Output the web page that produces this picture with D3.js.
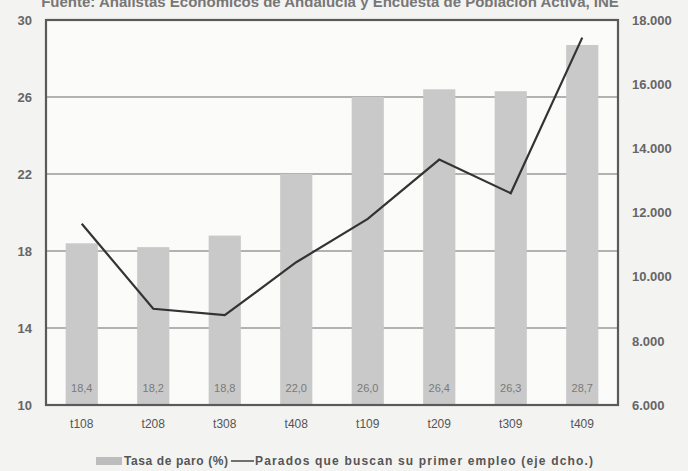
<!DOCTYPE html>
<html>
<head>
<meta charset="utf-8">
<script src="https://cdn.jsdelivr.net/npm/d3@7"></script>
<style>
  body { margin: 0; background: #f3f3f1; }
  svg { display: block; font-family: "Liberation Sans", Arial, sans-serif; }
</style>
</head>
<body>
<svg id="chart" width="688" height="471"></svg>
<script>
const quarters = ["t108", "t208", "t308", "t408", "t109", "t209", "t309", "t409"];
const tasaParo = [18.4, 18.2, 18.8, 22.0, 26.0, 26.4, 26.3, 28.7];
const primerEmpleo = [11650, 9000, 8800, 10450, 11800, 13650, 12600, 17450];
const leftTicks = [10, 14, 18, 22, 26, 30];
const rightTicks = [6000, 8000, 10000, 12000, 14000, 16000, 18000];

const svg = d3.select("#chart");
const margin = {left: 46, right: 70, top: 20, bottom: 66};
const width = 688 - margin.left - margin.right;
const height = 471 - margin.top - margin.bottom;
const ink = "#5a5a5a";

// source line, cut off at the top of the scan
svg.append("text")
  .attr("x", 330).attr("y", 7)
  .attr("text-anchor", "middle")
  .style("font-size", "15px").style("font-weight", "bold")
  .attr("fill", "#777")
  .text("Fuente: Analistas Económicos de Andalucía y Encuesta de Población Activa, INE");

const g = svg.append("g").attr("transform", `translate(${margin.left},${margin.top})`);

const x = d3.scaleBand().domain(quarters).range([0, width]).paddingInner(0.55).paddingOuter(0.275);
const y = d3.scaleLinear().domain([10, 30]).range([height, 0]);
const y2 = d3.scaleLinear().domain([6000, 18000]).range([height, 0]);

g.append("rect").attr("width", width).attr("height", height).attr("fill", "#fbfbfa");

// gridlines
g.append("g")
  .selectAll("line")
  .data(leftTicks.slice(1, -1))
  .enter().append("line")
  .attr("x1", 0).attr("x2", width)
  .attr("y1", d => y(d)).attr("y2", d => y(d))
  .attr("stroke", "#9a9a9a").attr("stroke-width", 1.3);

// bars
g.append("g")
  .selectAll("rect")
  .data(tasaParo)
  .enter().append("rect")
  .attr("x", (d, i) => x(quarters[i]))
  .attr("y", d => y(d))
  .attr("width", x.bandwidth())
  .attr("height", d => height - y(d))
  .attr("fill", "#c9c9c9");

g.append("g")
  .selectAll("text")
  .data(tasaParo)
  .enter().append("text")
  .attr("x", (d, i) => x(quarters[i]) + x.bandwidth() / 2)
  .attr("y", height - 13)
  .attr("text-anchor", "middle")
  .style("font-size", "11px")
  .attr("fill", "#7a7a7a")
  .text(d => d3.format(".1f")(d).replace(".", ","));

// line on the right axis
const line = d3.line()
  .x((d, i) => x(quarters[i]) + x.bandwidth() / 2)
  .y(d => y2(d));
g.append("path")
  .datum(primerEmpleo)
  .attr("d", line)
  .attr("fill", "none")
  .attr("stroke", "#333")
  .attr("stroke-width", 2.2);

// frame
g.append("rect").attr("width", width).attr("height", height)
  .attr("fill", "none").attr("stroke", ink).attr("stroke-width", 2.2);

// axes
const leftAxis = g.append("g")
  .call(d3.axisLeft(y).tickValues(leftTicks).tickSize(0).tickPadding(14));
const rightAxis = g.append("g")
  .attr("transform", `translate(${width},0)`)
  .call(d3.axisRight(y2).tickValues(rightTicks).tickSize(0).tickPadding(14)
    .tickFormat(d => d3.format(",")(d).replace(",", ".")));
const bottomAxis = g.append("g")
  .attr("transform", `translate(0,${height})`)
  .call(d3.axisBottom(x).tickSize(0).tickPadding(14));

[leftAxis, rightAxis, bottomAxis].forEach(a => {
  a.select(".domain").remove();
  a.selectAll("text").attr("fill", "#666").style("font-weight", "bold");
});
leftAxis.selectAll("text").style("font-size", "13px");
rightAxis.selectAll("text").style("font-size", "13px");
bottomAxis.selectAll("text").style("font-size", "12px").style("font-weight", "normal").attr("fill", "#555");

// legend
const lg = svg.append("g").attr("transform", "translate(96,463)");
lg.append("rect").attr("x", 0).attr("y", -6).attr("width", 26).attr("height", 8).attr("fill", "#bdbdbd");
lg.append("text").attr("x", 28).attr("y", 2)
  .style("font-size", "12px").style("font-weight", "bold").attr("fill", "#555")
  .attr("textLength", 104).attr("lengthAdjust", "spacing")
  .text("Tasa de paro (%)");
lg.append("line").attr("x1", 135).attr("x2", 158).attr("y1", -2).attr("y2", -2)
  .attr("stroke", "#444").attr("stroke-width", 1.5);
lg.append("text").attr("x", 159).attr("y", 2)
  .style("font-size", "12px").style("font-weight", "bold").attr("fill", "#555")
  .attr("textLength", 338).attr("lengthAdjust", "spacing")
  .text("Parados que buscan su primer empleo (eje dcho.)");
</script>
</body>
</html>
